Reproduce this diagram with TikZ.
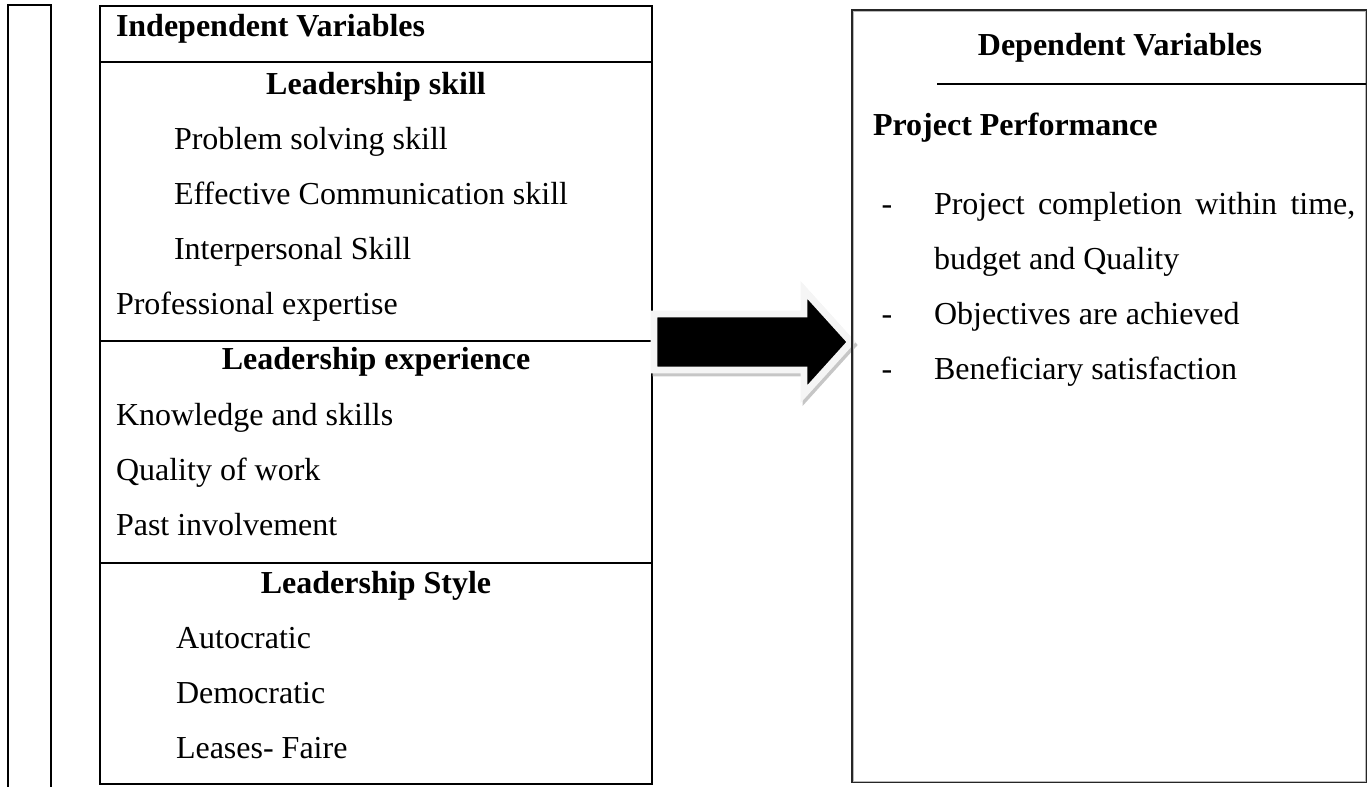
\documentclass[tikz,border=0pt]{standalone}
\usepackage{fontspec}
\setmainfont{Liberation Serif}

\tikzset{
 txt/.style={font=\fontsize{12}{14}\selectfont, inner sep=0pt},
 head/.style={txt, font=\fontsize{12}{14}\selectfont\bfseries, anchor=base},
 item/.style={txt, anchor=base west},
}

\begin{document}
\begin{tikzpicture}[x=0.375pt,y=-0.375pt,line width=0.75pt]
\useasboundingbox (0,0) rectangle (1370,787);
%%%%%left block starts here
\def\xa{100}
\def\xb{652}
\def\xc{376}
\def\p{55}

\draw (8,787) -- (8,5) -- (51,5) -- (51,787);
\draw (\xa,6) rectangle (\xb,784);
\foreach \y in {62,341,563} \draw (\xa,\y) -- (\xb,\y);

\draw (115,37) node[head,anchor=base west] (iv) {Independent Variables};

\draw (\xc,95) node[head] (lskill) {Leadership skill};
\foreach \t [count=\i] in {Problem solving skill,Effective Communication skill,Interpersonal Skill}
 \draw (173,95+\i*\p) node[item] (skill\i) {\t};
\draw (115,95+4*\p) node[item] (pexp) {Professional expertise};

\draw (\xc,370) node[head] (lexp) {Leadership experience};
\foreach \t [count=\i] in {Knowledge and skills,Quality of work,Past involvement}
 \draw (115,370+\i*\p) node[item] (exp\i) {\t};

\draw (\xc,593) node[head] (lstyle) {Leadership Style};
\foreach \t [count=\i] in {Autocratic,Democratic,Leases- Faire}
 \draw (175,593+\i*\p) node[item] (style\i) {\t};
%%%%%left block ends here

%%%%%arrow
\draw[gray!45,fill=gray!45,line width=2.6pt,shift={(2,3)}]
 (654,314) -- (804,314) -- (804,290) -- (851,342) -- (804,394) -- (804,370) -- (654,370) -- cycle;
\draw[gray!8,fill=black,line width=2.6pt,line join=miter]
 (654,314) -- (804,314) -- (804,290) -- (851,342) -- (804,394) -- (804,370) -- (654,370) -- cycle;

%%%%%right block starts here
\draw[black!85,line width=1.1pt] (852,10) rectangle (1366,782);
\draw[gray!55,line width=0.3pt] (853,11) rectangle (1365,781);
\draw (937,84) -- (1366,84);

\draw (1120,56) node[head] (dv) {Dependent Variables};
\draw (872,136) node[head,anchor=base west] (pp) {Project Performance};

\foreach \y in {215,325,380} \draw (887,\y) node[txt,anchor=base] {-};
\draw (933,215) node[item] (perf1) {\makebox[158pt][s]{Project completion within time,}};
\draw (933,270) node[item] (perf1b) {budget and Quality};
\draw (933,325) node[item] (perf2) {Objectives are achieved};
\draw (933,380) node[item] (perf3) {Beneficiary satisfaction};
%%%%%right block ends here
\end{tikzpicture}
\end{document}
